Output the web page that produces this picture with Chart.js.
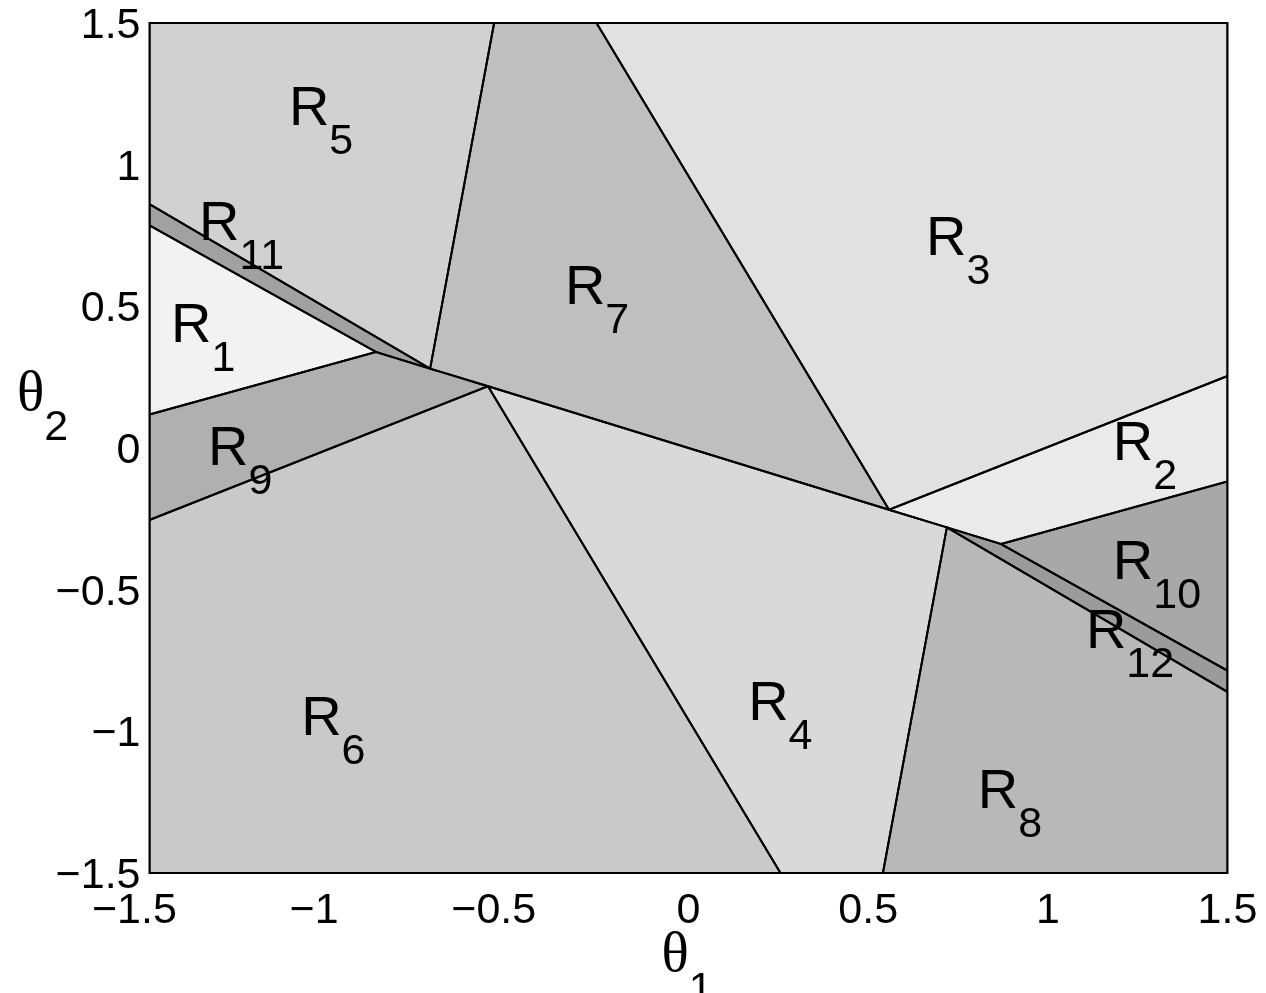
<!DOCTYPE html>
<html>
<head>
<meta charset="utf-8">
<script src="https://cdn.jsdelivr.net/npm/chart.js@4.4.1/dist/chart.umd.min.js"></script>
<style>
  html, body { margin: 0; padding: 0; background: #fff; }
  canvas { display: block; }
</style>
</head>
<body>
<canvas id="regions" width="1266" height="993"></canvas>
<script>
// osie
const xTicks = [-1.5, -1, -0.5, 0, 0.5, 1, 1.5];
const yTicks = [-1.5, -1, -0.5, 0, 0.5, 1, 1.5];

// numery regionów R1..R12
const regionNames = ['1', '2', '3', '4', '5', '6', '7', '8', '9', '10', '11', '12'];

// wierzchołki wielokątów (theta1, theta2), kolejno R1..R12
const regionPolygons = [
  [[-1.5, 0.786], [-0.870, 0.339], [-1.5, 0.118]],                                   // R1
  [[0.558, -0.218], [1.5, 0.254], [1.5, -0.118], [0.870, -0.339], [0.719, -0.280]],   // R2
  [[-0.256, 1.5], [1.5, 1.5], [1.5, 0.254], [0.558, -0.218]],                          // R3
  [[-0.558, 0.218], [0.558, -0.218], [0.719, -0.280], [0.541, -1.5], [0.256, -1.5]],   // R4
  [[-1.5, 1.5], [-0.541, 1.5], [-0.719, 0.280], [-1.5, 0.861]],                        // R5
  [[-1.5, -0.254], [-0.558, 0.218], [0.256, -1.5], [-1.5, -1.5]],                      // R6
  [[-0.541, 1.5], [-0.256, 1.5], [0.558, -0.218], [-0.558, 0.218], [-0.719, 0.280]],   // R7
  [[0.719, -0.280], [1.5, -0.861], [1.5, -1.5], [0.541, -1.5]],                        // R8
  [[-1.5, 0.118], [-0.870, 0.339], [-0.719, 0.280], [-0.558, 0.218], [-1.5, -0.254]],  // R9
  [[0.870, -0.339], [1.5, -0.118], [1.5, -0.786]],                                     // R10
  [[-1.5, 0.861], [-0.719, 0.280], [-0.870, 0.339], [-1.5, 0.786]],                    // R11
  [[0.719, -0.280], [0.870, -0.339], [1.5, -0.786], [1.5, -0.861]]                     // R12
];

// położenie napisów R_i (początek litery R, linia bazowa)
const labelX = [-1.440, 1.181, 0.661, 0.166, -1.112, -1.078, -0.344, 0.805, -1.337, 1.181, -1.362, 1.106];
const labelY = [0.374, -0.042, 0.681, -0.960, 1.140, -1.013, 0.508, -1.271, -0.060, -0.462, 0.734, -0.706];

// odcienie szarości
const regionShades = ['#f2f2f2', '#eaeaea', '#e1e1e1', '#d9d9d9', '#d1d1d1', '#c9c9c9',
                      '#bfbfbf', '#b8b8b8', '#b0b0b0', '#a8a8a8', '#a1a1a1', '#9b9b9b'];

const SANS = '"Liberation Sans", Arial, sans-serif';
const SERIF = '"Liberation Serif", "Times New Roman", serif';

function fmt(v) {
  return String(v).replace('-', '\u2212');
}

// napis z indeksem dolnym
function drawSub(ctx, main, sub, x, y, mainFont, subFont, drop) {
  ctx.font = mainFont;
  ctx.fillText(main, x, y);
  const w = ctx.measureText(main).width;
  ctx.font = subFont;
  ctx.fillText(sub, x + w, y + drop);
}

const annotations = {
  id: 'annotations',
  afterDatasetsDraw(chart) {
    const { ctx, chartArea: a, scales: { x, y } } = chart;
    ctx.save();
    ctx.strokeStyle = '#000';
    ctx.lineWidth = 2;
    ctx.strokeRect(a.left, a.top, a.right - a.left, a.bottom - a.top);

    ctx.fillStyle = '#000';
    ctx.textAlign = 'left';
    ctx.textBaseline = 'alphabetic';
    regionNames.forEach((n, i) => {
      const px = x.getPixelForValue(labelX[i]);
      const py = y.getPixelForValue(labelY[i]);
      drawSub(ctx, 'R', n, px, py, '56px ' + SANS, '43px ' + SANS, 29);
    });

    // tytuły osi
    const cx = (a.left + a.right) / 2;
    const cy = (a.top + a.bottom) / 2;
    drawSub(ctx, '\u03b8', '1', cx - 27, a.bottom + 98, '57px ' + SERIF, '43px ' + SANS, 31);
    drawSub(ctx, '\u03b8', '2', 17, cy - 38, '57px ' + SERIF, '43px ' + SANS, 30);
    ctx.restore();
  }
};

const datasets = regionPolygons.map((poly, i) => ({
  label: 'R' + regionNames[i],
  data: poly.concat([poly[0]]).map(p => ({ x: p[0], y: p[1] })),
  showLine: true,
  fill: 'shape',
  backgroundColor: regionShades[i],
  borderColor: '#000',
  borderWidth: 2,
  pointRadius: 0,
  tension: 0,
  clip: 0
}));

new Chart(document.getElementById('regions'), {
  type: 'scatter',
  data: { datasets: datasets },
  options: {
    responsive: false,
    animation: false,
    layout: { padding: { top: 23, right: 38.5, left: 0, bottom: 0 } },
    plugins: {
      legend: { display: false },
      tooltip: { enabled: false },
      filler: { drawTime: 'beforeDatasetsDraw' }
    },
    scales: {
      x: {
        type: 'linear',
        min: -1.5, max: 1.5,
        afterFit: s => { s.height = 120; s.paddingLeft = 0; s.paddingRight = 0; },
        afterBuildTicks: s => { s.ticks = xTicks.map(v => ({ value: v })); },
        grid: { display: false },
        border: { display: false },
        ticks: {
          color: '#000',
          padding: 4,
          maxRotation: 0,
          autoSkip: false,
          font: { family: SANS, size: 43 },
          // ujemne etykiety lekko przesunięte w lewo jak w oryginale
          callback: v => v < 0 ? fmt(v) + '\u2002\u2009' : fmt(v)
        }
      },
      y: {
        type: 'linear',
        min: -1.5, max: 1.5,
        afterFit: s => { s.width = 149.5; s.paddingTop = 0; s.paddingBottom = 0; },
        afterBuildTicks: s => { s.ticks = yTicks.map(v => ({ value: v })); },
        grid: { display: false },
        border: { display: false },
        ticks: {
          color: '#000',
          padding: 1,
          labelOffset: 3,
          autoSkip: false,
          font: { family: SANS, size: 43 },
          callback: v => fmt(v)
        }
      }
    }
  },
  plugins: [annotations]
});
</script>
</body>
</html>
